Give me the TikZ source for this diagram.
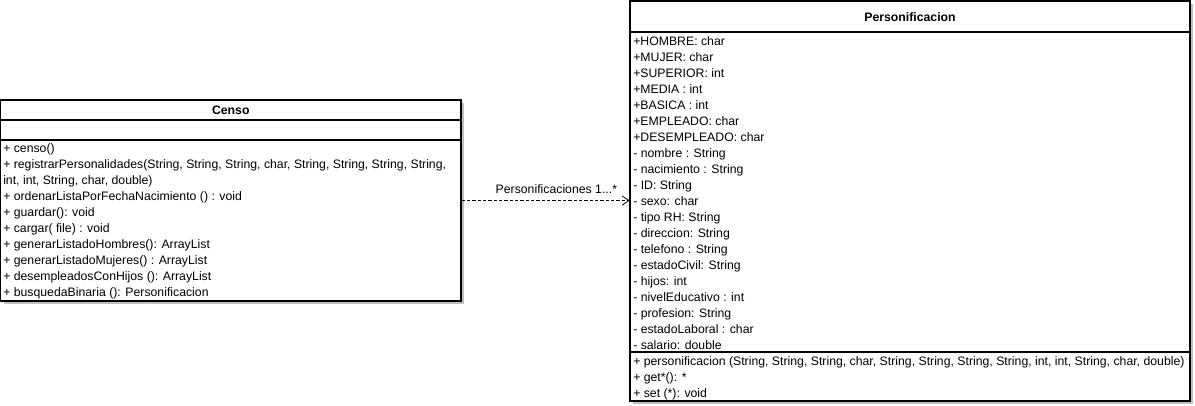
\documentclass[tikz,border=0pt]{standalone}
\usepackage{fontspec}
\setmainfont{Liberation Sans}
\usetikzlibrary{positioning,shadows,arrows.meta}

\begin{document}
\begin{tikzpicture}[x=0.75pt,y=-0.75pt,
	class box/.style={
		rectangle,draw=black,fill=white,line width=0.8pt,
		drop shadow={shadow xshift=2.6pt,shadow yshift=-2.6pt,fill=black!25,opacity=1}},
	class title/.style={
		font=\fontsize{9.2}{11}\selectfont\bfseries},
	member/.style={
		anchor=base west,inner sep=0pt,font=\fontsize{9.2}{11}\selectfont},
	role/.style={
		anchor=base east,inner sep=0pt,font=\fontsize{9.2}{11}\selectfont},
	divider/.style={line width=0.8pt},
	tip/.style={
		-{Straight Barb[length=5pt,width=7pt]},dash pattern=on 2.5pt off 1.5pt,line width=0.6pt}]
\useasboundingbox (0,0) rectangle (1195,405);
% class boxes
\node[class box,minimum width=345.4pt,minimum height=150.75pt] (censo) at (230.75,200.5) {};
\node[class box,minimum width=420pt,minimum height=300pt] (perso) at (910,201) {};
\draw[divider] (censo.west |- 0,120) -- (censo.east |- 0,120);
\draw[divider] (censo.west |- 0,140) -- (censo.east |- 0,140);
\draw[divider] (perso.west |- 0,32) -- (perso.east |- 0,32);
\draw[divider] (perso.west |- 0,352) -- (perso.east |- 0,352);
\node[class title] (censo title) at (230.75,110) {Censo};
\node[class title] (perso title) at (910,17) {Personificacion};
% Censo methods
\foreach \txt [count=\i from 0] in {+ censo(),
	{+ registrarPersonalidades(String, String, String, char, String, String, String, String,},
	{int, int, String, char, double)},
	+ ordenarListaPorFechaNacimiento () : void,
	+ guardar(): void,
	+ cargar( file) : void,
	+ generarListadoHombres(): ArrayList,
	+ generarListadoMujeres() : ArrayList,
	+ desempleadosConHijos (): ArrayList,
	+ busquedaBinaria (): Personificacion}
	\node[member] (cm\i) at (3,152+16*\i) {\txt};
% Personificacion attributes
\foreach \txt [count=\i from 0] in {+HOMBRE: char, +MUJER: char, +SUPERIOR: int,
	+MEDIA : int, +BASICA : int, +EMPLEADO: char, +DESEMPLEADO: char,
	- nombre : String, - nacimiento : String, - ID: String, - sexo: char,
	- tipo RH: String, - direccion: String, - telefono : String,
	- estadoCivil: String, - hijos: int, - nivelEducativo : int,
	- profesion: String, - estadoLaboral : char, - salario: double}
	\node[member] (pa\i) at (633,45+16*\i) {\txt};
% Personificacion methods
\foreach \txt [count=\i from 0] in {
	{+ personificacion (String, String, String, char, String, String, String, String, int, int, String, char, double)},
	+ get*(): *,
	+ set (*): void}
	\node[member] (pm\i) at (633,365+16*\i) {\txt};
% association
\draw[tip] (censo.east) -- (censo.east -| perso.west)
	node[role,pos=1,xshift=-9pt,yshift=5pt] (assoc) {Personificaciones 1...*};
\end{tikzpicture}
\end{document}
